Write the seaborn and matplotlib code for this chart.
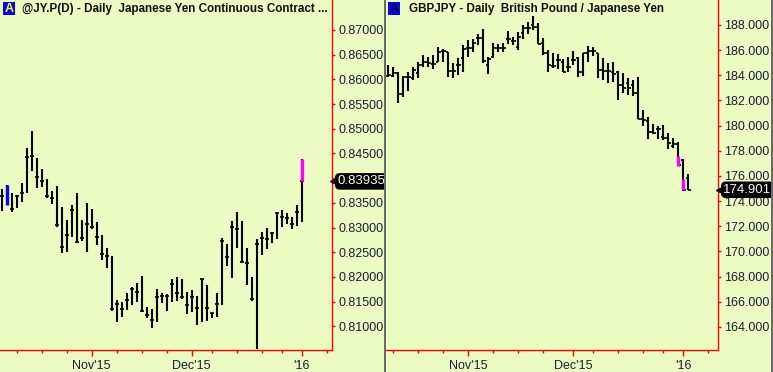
import matplotlib
matplotlib.use("Agg")
import matplotlib.pyplot as plt
from matplotlib.patches import Rectangle
from matplotlib.transforms import blended_transform_factory
import numpy as np
import seaborn as sns

W, H = 773, 372
BG = "#ecfbc2"
LABEL = "#1c1c3a"

# ---- @JY.P(D) daily bars (high / low / close) ----
jy_high = [0.83775, 0.83863, 0.83695, 0.83660, 0.83897, 0.84606, 0.84962, 0.84415, 0.84180, 0.83978,
           0.83741, 0.83843, 0.83424, 0.83154, 0.83458, 0.83695, 0.83154, 0.83492, 0.83371, 0.83120,
           0.82851, 0.82581, 0.82425, 0.81534, 0.81488, 0.81670, 0.81804, 0.81872, 0.82020, 0.81387,
           0.81346, 0.81751, 0.81670, 0.81650, 0.81954, 0.81994, 0.81954, 0.81690, 0.81737, 0.81615,
           0.81954, 0.81838, 0.81265, 0.81670, 0.82783, 0.82662, 0.83134, 0.83322, 0.83134, 0.82581,
           0.82006, 0.82763, 0.82917, 0.82986, 0.82917, 0.83322, 0.83356, 0.83302, 0.83208, 0.83458,
           0.84389]
jy_low = [0.83342, 0.83458, 0.83322, 0.83391, 0.83525, 0.83707, 0.84152, 0.83796, 0.83828, 0.83594,
          0.83478, 0.83019, 0.82492, 0.82513, 0.82804, 0.82683, 0.82729, 0.82513, 0.82972, 0.82648,
          0.82344, 0.82176, 0.81318, 0.81095, 0.81196, 0.81332, 0.81433, 0.81500, 0.81298, 0.81164,
          0.80974, 0.81095, 0.81468, 0.81312, 0.81500, 0.81520, 0.81549, 0.81251, 0.81298, 0.81028,
          0.81095, 0.81116, 0.81164, 0.81200, 0.81433, 0.82229, 0.81986, 0.82593, 0.82310, 0.81838,
          0.81520, 0.80543, 0.82445, 0.82567, 0.82694, 0.82769, 0.83019, 0.83073, 0.82972, 0.83032,
          0.83120]
jy_close = [0.83640, np.nan, 0.83371, 0.83640, 0.83695, 0.84423, 0.84450, 0.84019, 0.83944, 0.83640,
            0.83600, 0.83053, 0.82602, 0.82851, 0.83357, 0.82703, 0.82784, 0.83073, 0.83006, 0.82804,
            0.82466, 0.82425, 0.81346, 0.81447, 0.81352, 0.81534, 0.81751, 0.81690, 0.81318, 0.81231,
            0.81130, 0.81589, 0.81615, 0.81622, 0.81852, 0.81670, 0.81602, 0.81433, 0.81602, 0.81366,
            0.81954, 0.81366, 0.81265, 0.81447, 0.82729, 0.82399, 0.83006, 0.82966, 0.82310, 0.82277,
            0.81549, 0.82662, 0.82783, 0.82763, 0.82897, 0.83289, 0.83221, 0.83200, 0.83073, 0.83310,
            0.83935]
jy_mark_bar = [1, 60]
jy_mark_low = [0.83458, 0.83935]
jy_mark_high = [0.83863, 0.84389]
jy_yticks = [0.810, 0.815, 0.820, 0.825, 0.830, 0.835, 0.840, 0.845, 0.850, 0.855, 0.860, 0.865, 0.870]
jy_major = [18, 38, 60]
jy_minor = [3, 8, 13, 23, 28, 33, 42, 47, 52, 56, 65]
jy_last = "0.83935"

# ---- GBPJPY daily bars (open / high / low / close) ----
gj_open = [183.95, 183.95, 184.17, 182.52, 183.90, 183.77, 184.17, 184.83, 185.09, 184.90,
           185.09, 185.94, 185.83, 184.35, 184.83, 185.40, 186.15, 186.15, 186.94, 186.99,
           184.83, 185.48, 186.15, 186.20, 186.87, 186.75, 186.28, 187.34, 187.79, 188.00,
           187.87, 186.55, 185.80, 184.75, 185.22, 185.04, 184.64, 185.22, 185.36, 184.25,
           185.75, 185.96, 185.75, 184.43, 184.35, 184.29, 184.29, 183.24, 183.37, 183.24,
           182.58, 180.52, 180.33, 179.53, 179.72, 179.13, 179.05, 178.40, 178.53, 177.29,
           175.86]
gj_high = [184.83, 184.64, 184.29, 183.95, 184.29, 184.69, 185.09, 185.62, 185.48, 185.62,
           186.28, 186.07, 185.88, 185.01, 185.40, 186.41, 186.81, 186.87, 187.26, 187.66,
           185.48, 186.55, 186.49, 186.60, 187.52, 187.07, 187.47, 188.00, 188.26, 188.74,
           188.13, 186.94, 186.02, 185.80, 185.67, 185.28, 185.48, 185.96, 185.48, 185.80,
           186.33, 186.28, 185.80, 185.36, 185.01, 185.09, 184.37, 184.21, 183.77, 183.63,
           183.90, 181.25, 180.67, 180.12, 179.98, 180.06, 179.45, 179.01, 178.66, 177.34,
           176.15]
gj_low = [183.90, 183.90, 181.79, 182.31, 182.71, 183.63, 183.77, 184.64, 184.64, 184.51,
          185.09, 185.09, 183.90, 183.77, 184.03, 184.29, 185.48, 185.83, 186.41, 185.01,
          184.11, 185.36, 185.82, 185.88, 186.47, 186.41, 186.02, 186.87, 187.29, 187.60,
          186.47, 185.62, 184.29, 184.56, 184.48, 184.25, 184.25, 184.83, 183.90, 183.98,
          185.09, 185.54, 183.77, 183.63, 183.37, 183.50, 182.05, 182.58, 182.44, 182.37,
          180.52, 179.93, 178.95, 179.32, 178.95, 178.87, 178.13, 178.21, 176.81, 174.77,
          174.85]
gj_close = [184.03, 184.17, 182.52, 183.90, 183.90, 184.43, 184.83, 185.09, 184.96, 184.90,
            185.83, 185.94, 184.35, 184.35, 184.83, 186.07, 186.15, 186.55, 186.94, 185.14,
            185.30, 186.15, 186.15, 186.20, 186.87, 186.75, 187.07, 187.74, 187.79, 187.87,
            186.47, 185.75, 184.83, 184.75, 185.22, 184.29, 184.64, 185.22, 184.25, 185.75,
            185.96, 185.96, 184.43, 184.37, 184.35, 184.09, 183.24, 182.98, 182.98, 182.58,
            180.52, 180.46, 179.53, 179.40, 179.72, 179.05, 178.61, 178.53, 176.85, 174.85,
            174.901]
gj_mark_bar = [58, 59]
gj_mark_low = [176.81, 174.85]
gj_mark_high = [177.60, 175.75]
gj_yticks = [164, 166, 168, 170, 172, 174, 176, 178, 180, 182, 184, 186, 188]
gj_major = [16, 37, 59]
gj_minor = [1, 6, 11, 21, 26, 31, 41, 46, 51, 55, 64]
gj_last = "174.901"

date_labels = ["Nov'15", "Dec'15", "'16"]

sns.set_style("ticks", {"axes.facecolor": BG, "figure.facecolor": BG})
plt.rcParams["font.family"] = ["Liberation Sans", "DejaVu Sans"]

fig = plt.figure(figsize=(W / 100, H / 100), dpi=100)
fig.patch.set_facecolor(BG)


def px_rect(x0, y0, x1, y1):
    return [x0 / W, 1 - y1 / H, (x1 - x0) / W, (y1 - y0) / H]


def style_axis(ax, yticks, fmt, major, minor):
    ax.set_facecolor(BG)
    for side in ("left", "top"):
        ax.spines[side].set_visible(False)
    for side in ("right", "bottom"):
        ax.spines[side].set_color("red")
        ax.spines[side].set_linewidth(1.0)
    ax.yaxis.tick_right()
    ax.set_yticks(yticks)
    ax.set_yticklabels([fmt % v for v in yticks])
    ax.tick_params(axis="y", which="major", color="red", labelcolor=LABEL, length=2.5,
                   width=1, pad=2, labelsize=9)
    ax.set_xticks(major)
    ax.set_xticklabels(date_labels)
    ax.set_xticks(minor, minor=True)
    ax.tick_params(axis="x", which="major", color="red", labelcolor=LABEL, length=4,
                   width=1, pad=3, labelsize=9)
    ax.tick_params(axis="x", which="minor", color="red", length=2, width=1)
    ax.set_xlabel("")
    ax.set_ylabel("")


def last_price(ax, value, text):
    tr = blended_transform_factory(ax.transAxes, ax.transData)
    ax.plot([1.004], [value], marker="<", color="black", markersize=4, transform=tr,
            clip_on=False, zorder=10)
    ax.text(1.016, value, text, transform=tr, ha="left", va="center", color="white",
            fontsize=9.5, clip_on=False, zorder=10,
            bbox=dict(boxstyle="round,pad=0.12,rounding_size=0.3", fc="black", ec="black"))


# ---- left panel ----
ax1 = fig.add_axes(px_rect(0, 0, 332, 350))
x1 = np.arange(len(jy_high))
ax1.vlines(x1, jy_low, jy_high, color="black", lw=1.5)
ax1.hlines(jy_close, x1 - 0.42, x1 + 0.42, color="black", lw=1.2)
ax1.vlines(jy_mark_bar[:1], jy_mark_low[:1], jy_mark_high[:1], color="#0000ff", lw=2.4)
ax1.vlines(jy_mark_bar[1:], jy_mark_low[1:], jy_mark_high[1:], color="#ff00ff", lw=2.4)
ax1.set_xlim(-0.34, 66.06)
ax1.set_ylim(0.80522, 0.87607)
style_axis(ax1, jy_yticks, "%.5f", jy_major, jy_minor)
last_price(ax1, jy_close[-1], jy_last)

# ---- right panel ----
ax2 = fig.add_axes(px_rect(386, 0, 718, 350))
x2 = np.arange(len(gj_high))
ax2.vlines(x2, gj_low, gj_high, color="black", lw=1.5)
ax2.hlines(gj_open, x2 - 0.5, x2, color="black", lw=1.2)
ax2.hlines(gj_close, x2, x2 + 0.5, color="black", lw=1.2)
ax2.vlines(gj_mark_bar, gj_mark_low, gj_mark_high, color="#ff00ff", lw=2.4)
ax2.set_xlim(-0.46, 65.94)
ax2.set_ylim(162.17, 189.98)
style_axis(ax2, gj_yticks, "%.3f", gj_major, gj_minor)
last_price(ax2, gj_close[-1], gj_last)

# ---- panel separators ----
fig.add_artist(Rectangle((383.5 / W, 0), 2.5 / W, 1, transform=fig.transFigure,
                         color="#6a6a6a", lw=0))
fig.add_artist(Rectangle((771 / W, 0), 2 / W, 1, transform=fig.transFigure,
                         color="#6a6a6a", lw=0))

# ---- titles ----
fig.add_artist(Rectangle((3 / W, 1 - 15 / H), 12 / W, 13 / H, transform=fig.transFigure,
                         color="#0000ff", lw=0))
fig.text(9 / W, 1 - 8.5 / H, "A", color="#ffff00", fontsize=9, fontweight="bold",
         ha="center", va="center")
fig.text(22 / W, 1 - 9 / H, "@JY.P(D) - Daily  Japanese Yen Continuous Contract ...",
         color="#101010", fontsize=8.4, fontweight="bold", ha="left", va="center")

fig.add_artist(Rectangle((388 / W, 1 - 15 / H), 12 / W, 13 / H, transform=fig.transFigure,
                         color="#0000ff", lw=0))
fig.text(394 / W, 1 - 8.5 / H, "A", color="black", fontsize=9, fontweight="bold",
         ha="center", va="center")
fig.text(409 / W, 1 - 9 / H, "GBPJPY - Daily  British Pound / Japanese Yen",
         color="#101010", fontsize=8.4, fontweight="bold", ha="left", va="center")

fig.savefig("out.png", dpi=100, facecolor=BG)
